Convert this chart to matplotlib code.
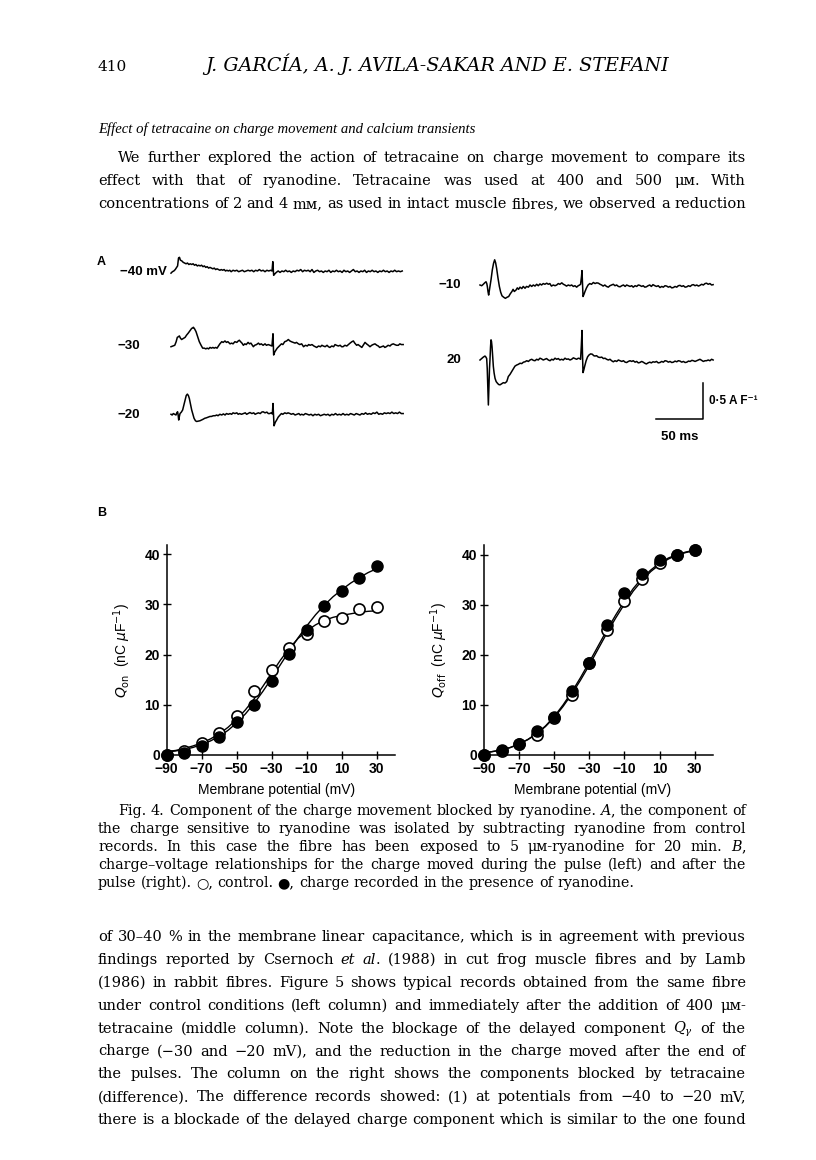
import matplotlib
matplotlib.use("Agg")
import matplotlib.pyplot as plt
import numpy as np

plt.rcParams['mathtext.fontset'] = 'dejavuserif'

# ---- data -------------------------------------------------------------
# panel B, charge-voltage points (nC/uF)
volt = [-90, -80, -70, -60, -50, -40, -30, -20, -10, 0, 10, 20, 30]
qon_ctrl = [0.0, 0.7, 2.3, 4.3, 7.8, 12.7, 16.9, 21.3, 24.1, 26.7, 27.2, 29.0, 29.5]
qon_ryan = [0.0, 0.3, 1.8, 3.6, 6.6, 10.0, 14.7, 20.2, 24.9, 29.7, 32.6, 35.3, 37.6]
qoff_ctrl = [0.0, 0.8, 2.2, 4.1, 7.4, 12.1, 18.4, 25.0, 30.8, 35.3, 38.5, 40.0, 41.0]
qoff_ryan = [0.0, 1.1, 2.3, 4.9, 7.6, 12.8, 18.4, 26.0, 32.5, 36.3, 39.0, 40.1, 41.1]

# fitted curves every 5 mV
fit_v = [-90, -85, -80, -75, -70, -65, -60, -55, -50, -45, -40, -35, -30,
         -25, -20, -15, -10, -5, 0, 5, 10, 15, 20, 25, 30]
fit_on_ctrl = [0.7, 0.9, 1.3, 1.8, 2.4, 3.2, 4.2, 5.5, 7.1, 9.0, 11.2, 13.7, 16.3,
               18.9, 21.2, 23.2, 24.7, 25.9, 26.8, 27.4, 27.8, 28.1, 28.4, 28.6, 28.7]
fit_on_ryan = [0.6, 0.8, 1.1, 1.5, 2.1, 2.8, 3.7, 4.9, 6.4, 8.2, 10.3, 12.7, 15.3,
               18.0, 20.7, 23.3, 25.7, 27.9, 29.8, 31.5, 32.9, 34.2, 35.3, 36.3, 37.1]
fit_off_ctrl = [0.4, 0.7, 1.0, 1.5, 2.2, 3.1, 4.2, 5.7, 7.5, 9.7, 12.2, 15.0, 18.0,
                21.2, 24.4, 27.4, 30.2, 32.8, 34.9, 36.7, 38.1, 39.2, 40.0, 40.5, 40.9]
fit_off_ryan = [0.4, 0.7, 1.0, 1.5, 2.2, 3.1, 4.3, 5.8, 7.7, 10.0, 12.6, 15.5, 18.6,
                21.8, 25.0, 28.0, 30.8, 33.3, 35.4, 37.0, 38.4, 39.4, 40.1, 40.6, 41.0]

# panel A, difference current records: (ms, A/F)
trace_m40 = [(0,-0.02),(1.5,0.0),(3,0.01),(4.5,0.03),(6,0.06),(7,0.08),(8,0.19),(9,0.20),(10,0.16),(11.5,0.15),(13,0.13),(14.5,0.12),(16,0.11),(17.5,0.12),(19,0.10),(20.5,0.11),(22,0.10),(23.5,0.11),(25,0.09),(26.5,0.10),(28,0.08),(29.5,0.09),(31,0.08),(32.5,0.09),(34,0.07),(35.5,0.08),(37,0.06),(38.5,0.07),(40,0.05),(41.5,0.06),(43,0.05),(44.5,0.04),(46,0.05),(47.5,0.03),(49,0.04),(50.5,0.03),(52,0.02),(53.5,0.03),(55,0.02),(56.5,0.03),(58,0.01),(59.5,0.02),(61,0.01),(62.5,0.02),(64,0.00),(66,0.02),(68,0.01),(70,0.02),(72,0.00),(74,0.01),(76,0.02),(78,0.00),(80,0.01),(82,0.02),(84,0.01),(86,0.02),(88,0.00),(90,0.02),(92,0.01),(94,0.03),(96,0.01),(98,0.02),(100,0.00),(102,0.02),(104,0.01),(106,0.02),(107.5,0.01),(108.3,0.14),(109.2,-0.05),(110.5,-0.03),(112,-0.01),(114,0.01),(116,-0.01),(118,0.01),(120,0.00),(122,0.02),(124,0.00),(126,0.01),(128,-0.01),(130,0.01),(132,0.00),(134,0.02),(136,0.01),(138,0.03),(140,0.00),(142,0.02),(144,0.01),(146,0.02),(148,0.00),(150,0.03),(152,-0.01),(154,0.01),(156,0.02),(158,0.00),(160,0.01),(162,-0.01),(164,0.01),(166,0.00),(168,0.02),(170,-0.01),(172,0.01),(174,0.00),(176,0.02),(178,0.00),(180,0.01),(182,-0.01),(184,0.02),(186,0.00),(188,0.01),(190,-0.01),(192,0.01),(194,0.03),(196,0.00),(198,0.01),(200,-0.01),(202,0.01),(204,0.00),(206,0.02),(208,-0.01),(210,0.01),(212,0.00),(214,0.02),(216,0.00),(218,0.01),(220,-0.01),(222,0.01),(224,0.00),(226,0.02),(228,0.00),(230,0.01),(232,-0.01),(234,0.01),(236,0.00),(238,0.02),(240,0.00),(242,0.01),(244,0.00),(246,0.01)]
trace_m30 = [(0,-0.01),(2,0.00),(4,0.01),(5.5,0.06),(6.7,0.12),(8,0.13),(8.9,0.14),(10,0.11),(11.3,0.09),(12.5,0.10),(13.8,0.11),(15,0.12),(16.5,0.15),(18.4,0.18),(20,0.21),(22,0.245),(23,0.25),(23.8,0.26),(25,0.24),(26.6,0.20),(28.3,0.13),(30.1,0.06),(32,0.01),(33.7,-0.03),(35.5,-0.03),(37,-0.04),(38.5,-0.03),(40,-0.04),(41.5,-0.02),(43,-0.03),(44.5,-0.02),(46,-0.03),(47.5,-0.02),(49,-0.03),(50.5,0.00),(52,0.03),(54,0.06),(55.5,0.05),(57.4,0.07),(59,0.05),(60.5,0.06),(62.8,0.03),(64.5,0.04),(66,0.03),(68,0.06),(70,0.05),(71.5,0.07),(72.7,0.08),(74,0.06),(75.5,0.04),(77,0.01),(78.5,0.03),(80,0.02),(82,0.05),(83.5,0.03),(85,0.04),(86.5,0.01),(87.6,-0.01),(89,0.01),(91,0.02),(93,0.04),(94.5,0.02),(96,0.03),(98,0.01),(100,0.03),(101.5,0.01),(103.5,0.02),(105.5,0.01),(107.4,0.00),(108.5,0.17),(109.2,-0.125),(110.5,-0.08),(111.7,-0.055),(113,-0.03),(114.5,-0.01),(116,0.01),(117.5,0.03),(119,0.02),(121,0.06),(123,0.07),(124.8,0.09),(126.5,0.07),(128,0.06),(130,0.05),(132,0.04),(133.5,0.05),(135.5,0.03),(137,0.02),(139,0.03),(141,-0.01),(143,0.01),(145,0.00),(146.5,0.02),(148,0.01),(150,0.02),(152,0.00),(153.5,-0.01),(155,-0.02),(157,0.00),(159,-0.01),(160.5,0.01),(162,0.00),(164,-0.01),(166,0.01),(167.5,-0.01),(169,-0.02),(171,0.00),(173,-0.01),(174.5,0.02),(176,0.01),(178,0.00),(180,0.01),(181.5,-0.01),(183,-0.01),(185,0.01),(187,0.00),(188.7,0.02),(190.5,0.04),(192.5,0.06),(194,0.07),(195.5,0.04),(197.5,0.01),(199,0.02),(201,0.00),(203,-0.02),(204.5,0.01),(206.4,0.05),(208,0.03),(210,0.01),(211.7,-0.01),(213.5,0.01),(215,0.02),(217,0.03),(219,0.01),(220.5,0.00),(222,-0.02),(224,-0.01),(226,0.00),(227.5,-0.02),(229,-0.01),(231,0.01),(233,0.00),(234.5,0.02),(236.5,0.03),(238,0.02),(240,0.01),(241.8,0.01),(243.5,0.03),(245,0.02),(247,0.02)]
trace_m20 = [(0,0.01),(1.2,0.00),(2.5,0.02),(3.8,0.01),(5.3,0.00),(6.2,0.03),(7,0.045),(7.6,0.00),(8.2,-0.07),(8.9,-0.02),(9.6,0.02),(11,0.04),(12.4,0.07),(13.7,0.14),(14.9,0.21),(16.2,0.27),(17.4,0.29),(18.5,0.27),(19.5,0.23),(20.8,0.15),(22,0.07),(23.3,0.01),(24.5,-0.045),(26,-0.08),(27.3,-0.09),(29,-0.085),(30.8,-0.08),(32.5,-0.07),(34,-0.06),(36,-0.045),(37.5,-0.04),(39.5,-0.03),(41.5,-0.02),(43,-0.02),(45,-0.01),(47,-0.01),(48.6,0.00),(50,-0.01),(52,0.01),(54,0.00),(55.7,0.015),(57.5,0.00),(59,0.02),(61,0.01),(62.8,0.02),(64.5,0.01),(66,0.03),(68,0.02),(70,0.03),(71.5,0.01),(73,0.02),(75,0.01),(77,0.02),(79,0.03),(80.5,0.01),(82,0.02),(84,0.035),(86,0.02),(88,0.03),(89.5,0.01),(91,0.02),(93,0.03),(95,0.02),(96.5,0.04),(98,0.045),(100,0.03),(102,0.04),(103.5,0.02),(105,0.02),(106.5,0.03),(107.8,0.015),(108.5,0.16),(109.6,-0.15),(111,-0.10),(112.4,-0.07),(114,-0.03),(116,0.00),(117.5,0.02),(119,0.01),(121,0.03),(123,0.02),(124.5,0.03),(126.6,0.02),(128,0.01),(130,0.02),(132,0.00),(134,0.01),(136,0.02),(137.5,0.00),(139,0.01),(141,0.00),(143,0.02),(145,0.01),(147,0.00),(149,0.01),(151,-0.01),(153,0.01),(155,0.00),(157,0.01),(159,-0.01),(161,0.00),(163,0.01),(165,0.00),(167,0.01),(169,-0.01),(171,0.01),(173,0.00),(175,0.02),(177,0.00),(179,0.01),(181,0.00),(183,0.02),(185,0.00),(187,0.01),(189,0.00),(191,0.02),(193,0.01),(195,0.00),(197,0.02),(199,0.01),(201,0.00),(203,0.02),(205,0.01),(207,0.03),(209,0.01),(211,0.02),(213,0.01),(215,0.03),(217,0.02),(219,0.04),(221,0.01),(223,0.02),(225,0.01),(227,0.03),(229,0.02),(231,0.03),(233,0.02),(235,0.04),(237,0.02),(239,0.03),(241,0.02),(243,0.04),(245,0.02),(247,0.02)]
trace_m10 = [(0,0.0),(1.8,-0.01),(3.5,0.01),(5,0.03),(6.4,0.045),(7.2,0.02),(7.8,-0.02),(8.5,-0.09),(9.2,-0.14),(9.9,-0.08),(10.6,-0.02),(11.8,0.08),(13.1,0.21),(14.4,0.30),(15.6,0.35),(16.6,0.31),(17.7,0.23),(19.1,0.10),(20.6,-0.02),(22,-0.10),(23.4,-0.15),(25.2,-0.17),(27,-0.185),(28.8,-0.17),(30.5,-0.16),(32.3,-0.12),(34,-0.09),(35.2,-0.06),(36.5,-0.09),(38.3,-0.07),(39.7,-0.04),(41,-0.06),(42.6,-0.03),(44.5,-0.05),(46,-0.02),(47.9,-0.045),(49.5,-0.02),(51.5,-0.03),(53.2,0.00),(55,-0.02),(56.7,0.00),(58.5,-0.015),(60.3,0.01),(62,-0.01),(63.8,0.015),(65.5,0.00),(67.3,0.02),(69,0.01),(71,0.025),(72.7,0.01),(74.3,0.02),(76,-0.015),(78,0.00),(79.8,-0.01),(81.6,0.00),(83.3,0.02),(85,0.01),(87,0.03),(88.7,0.01),(90.3,0.00),(92,-0.015),(94,0.00),(95.7,-0.01),(97.5,0.00),(99.3,-0.02),(101,-0.01),(102.8,-0.03),(104.5,-0.01),(106,0.00),(107,0.01),(108,0.12),(108.5,0.20),(109,0.05),(109.6,-0.16),(110.6,-0.13),(111.7,-0.09),(113.3,-0.04),(115,0.00),(116.8,0.02),(118.6,0.01),(120.6,0.035),(122.4,0.02),(124.2,0.03),(126,0.025),(127.7,0.01),(129.4,0.00),(131,-0.015),(132.8,0.00),(134.6,-0.02),(136.5,-0.03),(138.2,-0.01),(140,0.00),(141.8,0.01),(143.6,-0.01),(145.4,0.00),(147.2,-0.02),(149,-0.025),(150.8,-0.01),(152.6,0.00),(154.4,-0.02),(156,0.00),(157.8,-0.01),(159.6,-0.02),(161.4,-0.01),(163,-0.03),(165,-0.01),(166.7,-0.02),(168.4,0.00),(170,-0.005),(172,-0.02),(173.6,-0.01),(175.3,-0.03),(177,-0.025),(178.8,-0.01),(180.6,0.00),(182.3,-0.02),(184,0.005),(186,-0.01),(187.8,-0.02),(189.6,-0.01),(191.5,-0.035),(193.3,-0.02),(195,-0.03),(196.8,-0.01),(198.6,-0.015),(200.4,-0.03),(202.2,-0.02),(204,-0.04),(205.7,-0.035),(207.5,-0.02),(209.3,-0.03),(211,-0.01),(212.8,-0.005),(214.6,-0.02),(216.4,-0.01),(218.2,-0.03),(220,-0.025),(221.8,-0.01),(223.6,-0.02),(225.4,0.00),(227,0.005),(228.8,-0.01),(230.6,0.00),(232.4,-0.015),(234,-0.005),(235.8,0.01),(237.6,0.00),(239.4,0.02),(241,0.025),(242.8,0.01),(244.6,0.02),(246.4,0.00),(248,0.005)]
trace_p20 = [(0,0.0),(1.8,0.02),(3.5,0.04),(5.3,0.055),(6.3,0.04),(7.1,0.02),(7.7,-0.12),(8.2,-0.32),(8.9,-0.625),(9.6,-0.32),(10.1,-0.12),(10.6,0.00),(11.2,0.18),(11.7,0.28),(12.2,0.26),(12.8,0.185),(13.5,0.05),(14.2,-0.09),(15,-0.18),(16,-0.255),(17.2,-0.30),(18.4,-0.32),(19.8,-0.34),(21.3,-0.345),(23,-0.33),(24.8,-0.315),(26.6,-0.32),(28.4,-0.30),(29.2,-0.27),(30.1,-0.23),(31.9,-0.20),(33.7,-0.16),(35.5,-0.12),(37.2,-0.085),(39,-0.07),(40.8,-0.06),(42.6,-0.045),(44.4,-0.05),(46.2,-0.03),(47.9,-0.025),(49.7,-0.01),(51.5,-0.02),(53.2,0.00),(55,0.01),(56.8,-0.005),(58.5,-0.01),(60.3,0.01),(62,0.00),(63.8,0.025),(65.5,0.015),(67.3,0.00),(69,0.01),(70.8,0.02),(72.7,0.00),(74.5,-0.01),(76.3,0.01),(78,0.00),(79.8,0.025),(81.6,0.01),(83.3,0.02),(85,0.00),(86.8,0.01),(88.6,0.00),(90.4,0.025),(92.2,0.01),(94,0.015),(95.7,0.00),(97.5,0.01),(99.3,0.03),(101,0.02),(102.8,0.01),(104.6,0.025),(106,0.02),(107,0.01),(107.8,0.2),(108.5,0.41),(109,0.10),(109.6,-0.175),(110.4,-0.14),(111.3,-0.09),(112.9,-0.01),(114.5,0.045),(116,0.07),(117.7,0.085),(119.5,0.08),(121,0.06),(122.3,0.055),(124,0.06),(125.8,0.04),(127.7,0.035),(129.5,0.04),(131.3,0.02),(133,0.025),(134.7,0.01),(136.5,0.00),(138.3,0.01),(140,-0.01),(141.8,-0.025),(143.6,-0.01),(145.4,-0.02),(147.2,0.00),(149,-0.01),(150.8,-0.02),(152.6,-0.01),(154.4,-0.03),(156,-0.035),(157.8,-0.02),(159.6,-0.01),(161.4,-0.02),(163,-0.01),(165,-0.03),(166.7,-0.02),(168.4,-0.04),(170,-0.035),(172,-0.02),(173.6,-0.03),(175.3,-0.045),(177,-0.055),(178.8,-0.04),(180.6,-0.03),(182.3,-0.04),(184,-0.025),(186,-0.03),(187.8,-0.02),(189.6,-0.04),(191.5,-0.035),(193.3,-0.02),(195,-0.03),(196.8,-0.01),(198.6,-0.015),(200.4,-0.03),(202.2,-0.02),(204,-0.035),(205.7,-0.03),(207.5,-0.015),(209.3,-0.025),(211,-0.01),(212.8,-0.015),(214.6,-0.03),(216.4,-0.02),(218.2,-0.035),(220,-0.03),(221.8,-0.015),(223.6,-0.02),(225.4,-0.005),(227,-0.01),(228.8,-0.02),(230.6,-0.01),(232.4,0.00),(234,0.01),(235.8,-0.005),(237.6,-0.02),(239.4,-0.01),(241,-0.01),(242.8,0.00),(244.6,-0.01),(246.4,0.01),(248,0.00)]

trace_labels = ['\u221240 mV', '\u221230', '\u221220', '\u221210', '20']

# page text
header_text = 'J. GARC\u00cdA, A. J. AVILA-SAKAR AND E. STEFANI'
section_title = 'Effect of tetracaine on charge movement and calcium transients'
para_top = [
    'We further explored the action of tetracaine on charge movement to compare its',
    'effect with that of ryanodine. Tetracaine was used at 400 and 500 \u03bc\u1d0d. With',
    'concentrations of 2 and 4 m\u1d0d, as used in intact muscle fibres, we observed a reduction',
]
caption = [
    'Fig. 4. Component of the charge movement blocked by ryanodine. *A*, the component of',
    'the charge sensitive to ryanodine was isolated by subtracting ryanodine from control',
    'records. In this case the fibre has been exposed to 5 \u03bc\u1d0d-ryanodine for 20 min. *B*,',
    'charge\u2013voltage relationships for the charge moved during the pulse (left) and after the',
    'pulse (right). \u25cb, control. \u25cf, charge recorded in the presence of ryanodine.',
]
para_bottom = [
    'of 30\u201340 % in the membrane linear capacitance, which is in agreement with previous',
    'findings reported by Csernoch *et* *al*. (1988) in cut frog muscle fibres and by Lamb',
    '(1986) in rabbit fibres. Figure 5 shows typical records obtained from the same fibre',
    'under control conditions (left column) and immediately after the addition of 400 \u03bc\u1d0d-',
    'tetracaine (middle column). Note the blockage of the delayed component $Q_{\\gamma}$ of the',
    'charge (\u221230 and \u221220 mV), and the reduction in the charge moved after the end of',
    'the pulses. The column on the right shows the components blocked by tetracaine',
    '(difference). The difference records showed: (1) at potentials from \u221240 to \u221220 mV,',
    'there is a blockade of the delayed charge component which is similar to the one found',
]

# ---- figure -----------------------------------------------------------
W, H = 816, 1160
fig = plt.figure(figsize=(W / 100, H / 100), dpi=100)
renderer = fig.canvas.get_renderer()

SERIF = ['DejaVu Serif', 'Liberation Serif']
SANS = ['Liberation Sans', 'DejaVu Sans']
SPACE = 0.30  # normal word space, in em


def fx(x):
    return x / W


def fy(y):
    return 1 - y / H


def width_of(art):
    return art.get_window_extent(renderer).width


def put_word(tk, y, size):
    # *word* -> italic, text outside the stars stays upright
    if tk.count('*') == 2:
        a, b, c = tk.split('*')
        parts = [(a, 'normal'), (b, 'italic'), (c, 'normal')]
    else:
        parts = [(tk, 'normal')]
    return [fig.text(0, fy(y), p, fontsize=size, family=SERIF, style=s,
                     va='baseline') for p, s in parts if p]


def block_size(lines, starts, x1):
    # largest font size where every line still fits with normal spacing
    best = 99
    for line, x0 in zip(lines, starts):
        words = [put_word(tk, 0, 10) for tk in line.split(' ')]
        ww = sum(width_of(a) for w in words for a in w)
        gaps = (len(words) - 1) * SPACE * 10 * 100 / 72
        best = min(best, 10 * (x1 - x0) / (ww + gaps))
        for w in words:
            for a in w:
                a.remove()
    return best


def put_line(line, y, x0, x1, size, justify=True):
    # lay a line out word by word so it can be justified like the print
    words = [put_word(tk, y, size) for tk in line.split(' ')]
    widths = [sum(width_of(a) for a in w) for w in words]
    if justify and len(words) > 1:
        gap = (x1 - x0 - sum(widths)) / (len(words) - 1)
    else:
        gap = SPACE * size * 100 / 72
    x = x0
    for w in words:
        for a in w:
            a.set_x(fx(x))
            x += width_of(a)
        x += gap


def fit_text(txt, x0, x1, y, **kw):
    t = fig.text(fx(x0), fy(y), txt, fontsize=10, va='baseline', **kw)
    t.set_fontsize(10 * (x1 - x0) / width_of(t))
    return t


# header
fig.text(fx(98), fy(71), '410', fontsize=11, family=SERIF, va='baseline')
fit_text(header_text, 205, 668, 71, family=SERIF, style='italic')
fit_text(section_title, 98, 475, 133, family=['Liberation Serif'], style='italic')

body = para_top + para_bottom
body_starts = [118] + [98] * (len(body) - 1)
body_size = block_size(body, body_starts, 746)
cap_size = block_size(caption[:-1], [118, 98, 98, 98], 746)

for i, line in enumerate(para_top):
    put_line(line, 162 + 23 * i, 118 if i == 0 else 98, 746, body_size)

for i, line in enumerate(caption):
    put_line(line, 815 + 18 * i, 118 if i == 0 else 98, 746, cap_size,
             justify=(i < len(caption) - 1))

for i, line in enumerate(para_bottom):
    put_line(line, 941 + 22.9 * i, 98, 746, body_size)

# ---- panel A: current records ----------------------------------------
fig.text(fx(97), fy(262), 'A', fontsize=9, family=SANS, weight='bold', va='center')
axA = fig.add_axes([fx(100), fy(450), 650 / W, 210 / H])
PX_MS = 47 / 50.0   # pixels per ms
PX_AF = 72.0        # pixels per A/F
axA.set_xlim(0, 650 / PX_MS)
axA.set_ylim(0, 210 / PX_AF)
axA.axis('off')

# (trace, start px, baseline px, label right edge px)
placing = [(trace_m40, 171, 271.7, 167), (trace_m30, 171, 346, 140),
           (trace_m20, 171, 415, 140), (trace_m10, 480, 285, 461),
           (trace_p20, 480, 360, 461)]
for (tr, sx, by, lx), lab in zip(placing, trace_labels):
    t = np.array([p[0] for p in tr])
    v = np.array([p[1] for p in tr])
    axA.plot((sx - 100) / PX_MS + t, (450 - by) / PX_AF + v, color='black', lw=1.1)
    fig.text(fx(lx), fy(by), lab, fontsize=9.5, family=SANS, weight='bold',
             ha='right', va='center')

# scale bar 50 ms / 0.5 A/F
bx = (703 - 100) / PX_MS
by0 = (450 - 419) / PX_AF
axA.plot([bx - 50, bx, bx], [by0, by0, by0 + 0.5], color='black', lw=1.1)
fig.text(fx(709), fy(401), '0\u00b75 A F\u207b\u00b9', fontsize=8.5, family=SANS,
         weight='bold', va='center')
fig.text(fx(680), fy(437), '50 ms', fontsize=9.5, family=SANS, weight='bold',
         ha='center', va='center')

# ---- panel B: charge-voltage curves ----------------------------------
fig.text(fx(97), fy(513), 'B', fontsize=9, family=SANS, weight='bold', va='center')


def qv_axes(x_left, x_right, top_val, ctrl, ryan, fit_c, fit_r, ylab, xlab_x):
    ax = fig.add_axes([fx(x_left), fy(755), (x_right - x_left) / W, 210 / H])
    ax.plot(fit_v, fit_c, color='black', lw=1.0, zorder=2)
    ax.plot(fit_v, fit_r, color='black', lw=1.0, zorder=2)
    ax.plot(volt, ctrl, 'o', ms=8, mfc='white', mec='black', mew=1.2,
            clip_on=False, zorder=3)
    ax.plot(volt, ryan, 'o', ms=8, mfc='black', mec='black', clip_on=False, zorder=4)
    ax.set_xlim(-90, 40.4)
    ax.set_ylim(0, top_val)
    ax.set_xticks([-90, -70, -50, -30, -10, 10, 30])
    ax.set_yticks([0, 10, 20, 30, 40])
    for s in ['top', 'right']:
        ax.spines[s].set_visible(False)
    for s in ['left', 'bottom']:
        ax.spines[s].set_linewidth(1.1)
    ax.tick_params(direction='inout', length=6, width=1.0, labelsize=10, pad=2)
    for lab in ax.get_xticklabels() + ax.get_yticklabels():
        lab.set_family(SANS)
        lab.set_weight('bold')
    ax.set_ylabel(ylab, fontsize=10, family=SANS, math_fontfamily='dejavusans')
    ax.yaxis.set_label_coords(-34 / (x_right - x_left), 0.5)
    fig.text(fx(xlab_x), fy(790), 'Membrane potential (mV)', fontsize=10,
             family=SANS, ha='center', va='center')
    return ax


qv_axes(166.7, 395, 41.8, qon_ctrl, qon_ryan, fit_on_ctrl, fit_on_ryan,
        r'$Q_{\rm on}$  (nC $\mu$F$^{-1}$)', 277)
qv_axes(484, 713, 42.0, qoff_ctrl, qoff_ryan, fit_off_ctrl, fit_off_ryan,
        r'$Q_{\rm off}$  (nC $\mu$F$^{-1}$)', 593)

fig.savefig('out.png', dpi=100)
